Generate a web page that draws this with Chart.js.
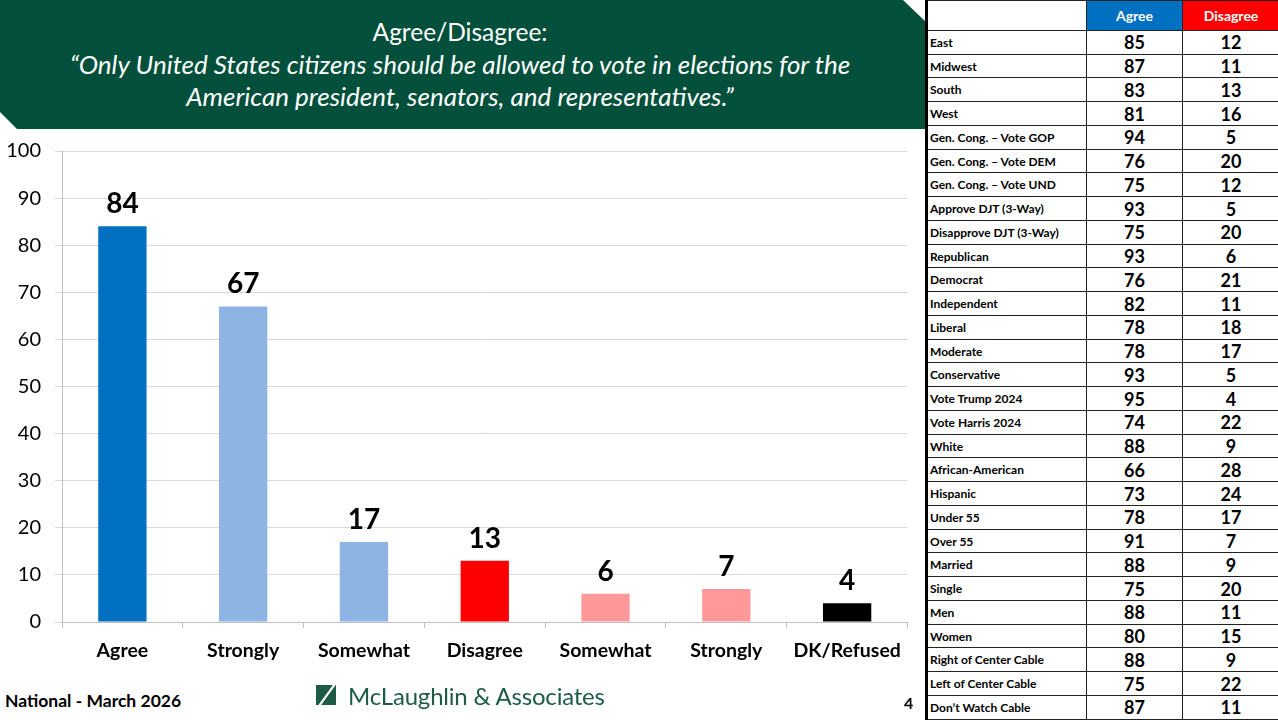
<!DOCTYPE html>
<html>
<head>
<meta charset="utf-8">
<script src="https://cdn.jsdelivr.net/npm/chart.js@4.4.1/dist/chart.umd.min.js"></script>
<style>
  html, body { margin: 0; padding: 0; background: #fff; }
  body { width: 1278px; height: 720px; position: relative; overflow: hidden; font-family: Lato, "Open Sans", sans-serif; }
  #header {
    position: absolute; left: 0; top: 0; width: 926px; height: 129px; background: #02503B;
    clip-path: polygon(0 0, 903px 0, 926px 22px, 926px 129px, 17px 129px, 0 112px);
    color: #fff; text-align: center;
  }
  #header .t1 { position: absolute; left: 0; width: 920px; top: 16px; font-size: 24.5px; line-height: 32px; }
  #header .t2 { position: absolute; left: 0; width: 920px; top: 48px; font-size: 26px; line-height: 32px; font-style: italic; }
  #chartBox { position: absolute; left: 0; top: 125px; width: 912px; height: 555px; }
  #footer-left { position: absolute; left: 5px; top: 690px; font-size: 17.5px; font-weight: bold; color: #000; }
  #page-num { position: absolute; left: 904px; top: 693px; font-size: 16px; font-weight: bold; color: #000; }
  #logo { position: absolute; left: 316px; top: 679px; height: 32px; display: flex; align-items: center; }
  #logo span { margin-left: 12px; font-size: 24px; color: #1E5B45; letter-spacing: -0.2px; }
  table { position: absolute; left: 925px; top: 0; width: 353px; height: 720px; border-collapse: collapse; table-layout: fixed; }
  td { border: 1.5px solid #222; padding: 0; overflow: hidden; white-space: nowrap; }
  td.lbl { font-size: 12px; font-weight: bold; padding-left: 2px; }
  td.num { font-size: 18px; font-weight: bold; text-align: center; }
  tr.head td { height: 28px; font-size: 14px; font-weight: bold; color: #fff; text-align: center; }
  tr.row td { height: 22px; }
  table tr td:first-child { border-left: 3px solid #000; }
</style>
</head>
<body>
<div id="header">
  <div class="t1">Agree/Disagree:</div>
  <div class="t2">“Only United States citizens should be allowed to vote in elections for the<br>American president, senators, and representatives.”</div>
</div>

<div id="chartBox"><canvas id="chart" width="912" height="555"></canvas></div>

<table id="crosstab"></table>

<div id="footer-left">National - March 2026</div>
<div id="logo">
  <svg width="20" height="20" viewBox="0 0 20 20">
    <rect x="0" y="0" width="20" height="20" fill="#1E5B45"/>
    <line x1="3" y1="21" x2="19" y2="-1" stroke="#fff" stroke-width="2.2"/>
  </svg>
  <span>McLaughlin &amp; Associates</span>
</div>
<div id="page-num">4</div>

<script>
// chart data
const categories = ['Agree', 'Strongly', 'Somewhat', 'Disagree', 'Somewhat', 'Strongly', 'DK/Refused'];
const values = [84, 67, 17, 13, 6, 7, 4];
const barColors = ['#0070C0', '#8EB4E3', '#8EB4E3', '#FF0000', '#FF9999', '#FF9999', '#000000'];
const yTicks = [0, 10, 20, 30, 40, 50, 60, 70, 80, 90, 100];

// crosstab table data
const groups = ['East', 'Midwest', 'South', 'West', 'Gen. Cong. – Vote GOP', 'Gen. Cong. – Vote DEM',
  'Gen. Cong. – Vote UND', 'Approve DJT (3-Way)', 'Disapprove DJT (3-Way)', 'Republican', 'Democrat',
  'Independent', 'Liberal', 'Moderate', 'Conservative', 'Vote Trump 2024', 'Vote Harris 2024', 'White',
  'African-American', 'Hispanic', 'Under 55', 'Over 55', 'Married', 'Single', 'Men', 'Women',
  'Right of Center Cable', 'Left of Center Cable', 'Don’t Watch Cable'];
const agreeByGroup = [85, 87, 83, 81, 94, 76, 75, 93, 75, 93, 76, 82, 78, 78, 93, 95, 74, 88, 66, 73, 78, 91, 88, 75, 88, 80, 88, 75, 87];
const disagreeByGroup = [12, 11, 13, 16, 5, 20, 12, 5, 20, 6, 21, 11, 18, 17, 5, 4, 22, 9, 28, 24, 17, 7, 9, 20, 11, 15, 9, 22, 11];

function buildTable() {
  const tbl = document.getElementById('crosstab');
  let html = '<colgroup><col style="width:160px"><col style="width:96px"><col style="width:97px"></colgroup>';
  html += '<tr class="head"><td style="background:#fff"></td><td style="background:#0070C0">Agree</td><td style="background:#FF0000">Disagree</td></tr>';
  groups.forEach((g, i) => {
    html += `<tr class="row"><td class="lbl">${g}</td><td class="num">${agreeByGroup[i]}</td><td class="num">${disagreeByGroup[i]}</td></tr>`;
  });
  tbl.innerHTML = html;
}

// value labels above bars
const valueLabels = {
  id: 'valueLabels',
  afterDatasetsDraw(chart) {
    const ctx = chart.ctx;
    const meta = chart.getDatasetMeta(0);
    ctx.save();
    ctx.font = "bold 28px Lato, sans-serif";
    ctx.fillStyle = '#000';
    ctx.textAlign = 'center';
    ctx.textBaseline = 'bottom';
    meta.data.forEach((bar, i) => {
      ctx.fillText(values[i], bar.x, bar.y - 8);
    });
    ctx.restore();
  }
};

function initChart() {
  new Chart(document.getElementById('chart'), {
    type: 'bar',
    data: {
      labels: categories,
      datasets: [{
        data: values,
        backgroundColor: barColors,
        borderWidth: 0,
        categoryPercentage: 1,
        barPercentage: 0.4
      }]
    },
    options: {
      responsive: false,
      animation: false,
      layout: { padding: { top: 11, right: 2, left: 0, bottom: 0 } },
      plugins: { legend: { display: false }, tooltip: { enabled: false } },
      scales: {
        x: {
          afterFit: s => { s.height = 58; },
          grid: { drawOnChartArea: false, offset: true, tickLength: 6, color: '#BFBFBF' },
          border: { color: '#BFBFBF' },
          ticks: { color: '#000', font: { family: 'Lato', size: 19.5, weight: 'bold' }, padding: 11, maxRotation: 0 }
        },
        y: {
          min: 0, max: 100,
          afterFit: s => { s.width = 62; },
          afterBuildTicks: s => { s.ticks = yTicks.map(v => ({ value: v })); },
          grid: { color: '#D9D9D9', tickLength: 7 },
          border: { color: '#BFBFBF' },
          ticks: { color: '#000', font: { family: 'Lato', size: 20 }, padding: 14 }
        }
      }
    },
    plugins: [valueLabels]
  });
}

buildTable();
document.fonts.load('bold 20px Lato').then(() => document.fonts.load('20px Lato')).then(initChart, initChart);
</script>
</body>
</html>
